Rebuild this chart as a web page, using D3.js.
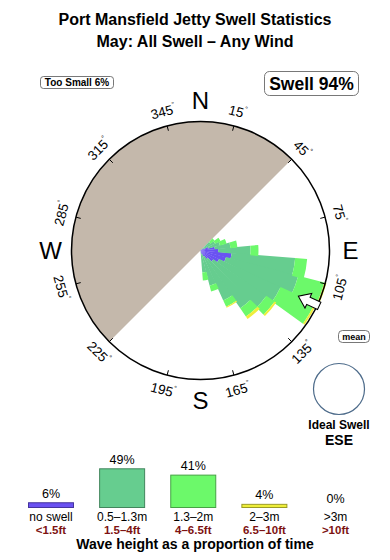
<!DOCTYPE html>
<html>
<head>
<meta charset="utf-8">
<script src="https://cdn.jsdelivr.net/npm/d3@7"></script>
<style>
  html, body { margin: 0; padding: 0; background: #fff; }
  svg { display: block; font-family: "Liberation Sans", Arial, sans-serif; }
</style>
</head>
<body>
<script>
// direction bins (deg, centre of a 10 deg sector) and % of time per wave band
const dirs       = [50, 60, 70, 80, 90, 100, 110, 120, 130, 140, 150, 160, 170];
const noSwell    = [0, 0.02, 0.1, 0.3, 0.45, 1.4, 1.0, 0.6, 0.35, 0.15, 0.06, 0.02, 0];
const smallSwell = [0.21, 0.35, 0.48, 1.0, 3.16, 11.6, 13.7, 10.57, 8.86, 6.94, 4.28, 1.89, 0.7];
const midSwell   = [0.21, 0.33, 0.47, 0.67, 1.24, 3.5, 8.9, 11.7, 2.45, 2.16, 1.18, 0.67, 0.6];
const bigSwell   = [0, 0, 0, 0, 0, 0, 0.8, 0.7, 0.53, 0.71, 0.18, 0, 0];
const hugeSwell  = [0, 0, 0, 0, 0, 0, 0, 0, 0, 0, 0, 0, 0];

const bandKeys   = ['none', 'small', 'mid', 'big', 'huge'];
const bandLabels = ['no swell', '0.5\u20131.3m', '1.3\u20132m', '2\u20133m', '>3m'];
const bandFeet   = ['<1.5ft', '1.5\u20134ft', '4\u20136.5ft', '6.5\u201310ft', '>10ft'];
const bandShare  = [6, 49, 41, 4, 0];
const bandColors = ['#6a52f2', '#66cd8f', '#6cf96a', '#eeee3a', '#c4b8ab'];

const tickDegs   = [15, 45, 75, 105, 135, 165, 195, 225, 255, 285, 315, 345];
const compass    = [['N', 0], ['E', 90], ['S', 180], ['W', 270]];
const landFrom = 225, landTo = 405;   // blocked (land) sector
const meanDir = 115;
const idealDir = 'ESE';

const W = 390, H = 560;
const cx = 200.5, cy = 250.5, R = 129;
const rad = d => d * Math.PI / 180;

const svg = d3.select('body').append('svg')
  .attr('width', W)
  .attr('height', H);

// titles
svg.append('text')
  .attr('x', 195).attr('y', 25)
  .attr('text-anchor', 'middle')
  .attr('font-size', 16).attr('font-weight', 'bold')
  .text('Port Mansfield Jetty Swell Statistics');
svg.append('text')
  .attr('x', 195).attr('y', 47)
  .attr('text-anchor', 'middle')
  .attr('font-size', 16).attr('font-weight', 'bold')
  .text('May: All Swell \u2013 Any Wind');

// little rounded label boxes
function tagBox(x, y, w, h, r, txt, size, ty) {
  svg.append('rect')
    .attr('x', x).attr('y', y).attr('width', w).attr('height', h)
    .attr('rx', r)
    .attr('fill', '#fff').attr('stroke', '#555').attr('stroke-width', 0.8);
  svg.append('text')
    .attr('x', x + w / 2).attr('y', ty)
    .attr('text-anchor', 'middle')
    .attr('font-size', size).attr('font-weight', 'bold')
    .text(txt);
}
tagBox(40.5, 76.5, 73, 12, 3, 'Too Small 6%', 10, 86);
tagBox(264.5, 71.5, 94, 24, 5, 'Swell 94%', 17.5, 90);
tagBox(338.5, 330.5, 31, 12, 4, 'mean', 9, 339.5);

// rose
const rose = svg.append('g').attr('transform', `translate(${cx},${cy})`);

const r = d3.scaleSqrt().domain([0, 24]).range([0, R]);

rose.append('path')
  .attr('d', d3.arc()({innerRadius: 0, outerRadius: R, startAngle: rad(landFrom), endAngle: rad(landTo)}))
  .attr('fill', '#c4b8ab');

const table = dirs.map((d, i) => ({
  dir: d, none: noSwell[i], small: smallSwell[i], mid: midSwell[i], big: bigSwell[i], huge: hugeSwell[i]
}));
const stacked = d3.stack().keys(bandKeys)(table);

const arc = d3.arc()
  .innerRadius(d => r(d[0]))
  .outerRadius(d => r(d[1]))
  .startAngle(d => rad(d.data.dir - 5.5))
  .endAngle(d => rad(d.data.dir + 5.5));

rose.selectAll('g.band')
  .data(stacked)
  .join('g')
  .attr('class', 'band')
  .attr('fill', (s, i) => bandColors[i])
  .selectAll('path')
  .data(s => s.filter(d => d[1] > d[0]))
  .join('path')
  .attr('d', arc);

rose.append('circle')
  .attr('r', R)
  .attr('fill', 'none')
  .attr('stroke', '#000')
  .attr('stroke-width', 1.5);

// ticks + degree labels
rose.selectAll('line.tick')
  .data(tickDegs)
  .join('line')
  .attr('class', 'tick')
  .attr('x1', d => (R - 5) * Math.sin(rad(d)))
  .attr('y1', d => -(R - 5) * Math.cos(rad(d)))
  .attr('x2', d => R * Math.sin(rad(d)))
  .attr('y2', d => -R * Math.cos(rad(d)))
  .attr('stroke', '#000');

const lbl = rose.selectAll('text.deg')
  .data(tickDegs)
  .join('text')
  .attr('class', 'deg')
  .attr('font-size', 13.5)
  .attr('text-anchor', 'middle')
  .attr('dominant-baseline', 'central')
  .attr('transform', d => {
    const x = 144 * Math.sin(rad(d)), y = -144 * Math.cos(rad(d));
    const rot = (d > 90 && d < 270) ? d - 180 : (d > 180 ? d - 360 : d);
    return `translate(${x},${y}) rotate(${rot})`;
  });
lbl.append('tspan').text(d => d);
lbl.append('tspan').attr('font-size', 7).attr('dy', -5).text('\u00b0');

rose.selectAll('text.cmp')
  .data(compass)
  .join('text')
  .attr('class', 'cmp')
  .attr('x', d => 150 * Math.sin(rad(d[1])))
  .attr('y', d => -150 * Math.cos(rad(d[1])))
  .attr('text-anchor', 'middle')
  .attr('dominant-baseline', 'central')
  .attr('font-size', 24)
  .text(d => d[0]);

// mean direction arrow (points inward)
rose.append('path')
  .attr('transform', `rotate(${meanDir})`)
  .attr('d', 'M0,-108 L8,-119 L4,-119 L4,-131 L-4,-131 L-4,-119 L-8,-119 Z')
  .attr('fill', '#fff')
  .attr('stroke', '#000')
  .attr('stroke-width', 1);

// ideal swell marker
svg.append('circle')
  .attr('cx', 339).attr('cy', 389).attr('r', 25.5)
  .attr('fill', '#fff')
  .attr('stroke', '#4d6b8a')
  .attr('stroke-width', 1.2);
svg.append('text')
  .attr('x', 339).attr('y', 429)
  .attr('text-anchor', 'middle')
  .attr('font-size', 12).attr('font-weight', 'bold')
  .text('Ideal Swell');
svg.append('text')
  .attr('x', 339).attr('y', 445)
  .attr('text-anchor', 'middle')
  .attr('font-size', 14).attr('font-weight', 'bold')
  .text(idealDir);

// legend bars
const lx = d3.scalePoint().domain(bandKeys).range([51, 335.5]);
const lh = d3.scaleLinear().domain([0, 49]).range([0, 38.7]);
const base = 507.5, bw = 45;

const leg = svg.append('g');
leg.selectAll('rect')
  .data(bandKeys)
  .join('rect')
  .attr('x', k => lx(k) - bw / 2)
  .attr('y', (k, i) => base - lh(bandShare[i]))
  .attr('width', bw)
  .attr('height', (k, i) => lh(bandShare[i]))
  .attr('fill', (k, i) => bandColors[i])
  .attr('stroke', (k, i) => d3.color(bandColors[i]).darker(1.2))
  .attr('stroke-width', 1);

leg.selectAll('text.pct')
  .data(bandKeys)
  .join('text')
  .attr('class', 'pct')
  .attr('x', k => lx(k))
  .attr('y', (k, i) => base - lh(bandShare[i]) - 5)
  .attr('text-anchor', 'middle')
  .attr('font-size', 12.5)
  .text((k, i) => bandShare[i] + '%');

leg.selectAll('text.m')
  .data(bandKeys)
  .join('text')
  .attr('class', 'm')
  .attr('x', k => lx(k))
  .attr('y', 520.5)
  .attr('text-anchor', 'middle')
  .attr('font-size', 12)
  .text((k, i) => bandLabels[i]);

leg.selectAll('text.ft')
  .data(bandKeys)
  .join('text')
  .attr('class', 'ft')
  .attr('x', k => lx(k))
  .attr('y', 533.5)
  .attr('text-anchor', 'middle')
  .attr('font-size', 11.5).attr('font-weight', 'bold')
  .attr('fill', '#7d1212')
  .text((k, i) => bandFeet[i]);

svg.append('text')
  .attr('x', 195).attr('y', 548.5)
  .attr('text-anchor', 'middle')
  .attr('font-size', 14).attr('font-weight', 'bold')
  .text('Wave height as a proportion of time');
</script>
</body>
</html>
